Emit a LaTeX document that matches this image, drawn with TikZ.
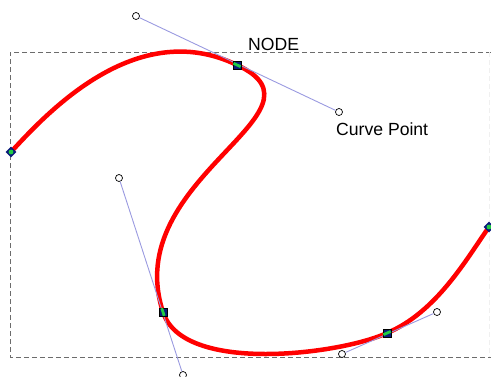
\documentclass[tikz,border=0pt]{standalone}
\usepackage{fontspec}
\setmainfont{Liberation Sans}
\usetikzlibrary{calc,shapes.geometric}
\definecolor{armblue}{HTML}{9A9AE0}
\definecolor{knotblue}{HTML}{0A1A7A}
\definecolor{knotgreen}{HTML}{22CC44}

\begin{document}
\begin{tikzpicture}[x=1pt,y=-1pt,
  handle/.style={circle,draw,fill=white,inner sep=0pt,minimum size=7pt,line width=0.7pt},
  knot/.style={rectangle,draw=black,fill=knotblue,inner sep=0pt,minimum size=8.5pt,line width=0.5pt},
  endknot/.style={diamond,fill=knotblue,inner sep=0pt,minimum size=11pt},
  arm/.style={draw=armblue,line width=0.9pt},
  lbl/.style={inner sep=0pt,anchor=base west,font=\fontsize{17.6}{20}\selectfont}]
\useasboundingbox (0,0) rectangle (491,376);
% frame
\draw[gray!85!black,line width=0.8pt,dash pattern=on 5pt off 3pt]
  (491,52) -- (10,52) -- (10,357) -- (491,357);
\draw[gray!12,line width=0.8pt,dash pattern=on 5pt off 3pt] (489,52) -- (489,357);
% curve points and handles
\coordinate (p0) at (11,152);
\coordinate (p1) at (237,65);
\coordinate (p2) at (163,312);
\coordinate (p3) at (387,333);
\coordinate (p4) at (489,227);
\coordinate (c0) at (46,114);
\coordinate (c4) at (467,258);
\coordinate (a1) at (136,16);
\coordinate (b1) at (339,112);
\coordinate (a2) at (119,178);
\coordinate (b2) at (183,375);
\coordinate (a3) at (342,354);
\coordinate (b3) at (437,312);
\draw[red,line width=4.5pt] (p0) .. controls (c0) and (a1) .. (p1)
  .. controls (b1) and (a2) .. (p2)
  .. controls (b2) and (a3) .. (p3)
  .. controls (b3) and (c4) .. (p4);
\foreach \i in {1,2,3}{
  \node[handle] (ha\i) at (a\i) {};
  \node[handle] (hb\i) at (b\i) {};
  \draw[arm] (ha\i) -- (hb\i);
  \node[knot] (k\i) at (p\i) {};
  \draw[knotgreen,line width=2.8pt] ($(p\i)!4pt!(a\i)$) -- ($(p\i)!4pt!(b\i)$);
}
\node[endknot] (k0) at (p0) {};
\node[endknot] (k4) at (p4) {};
\fill[knotgreen] (k0) circle (2.4pt);
\fill[knotgreen] (k4) circle (2.4pt);
% labels
\node[lbl] (node) at (248,50.5) {NODE};
\node[lbl] (cpt) at (336,135) {Curve Point};
\end{tikzpicture}
\end{document}
